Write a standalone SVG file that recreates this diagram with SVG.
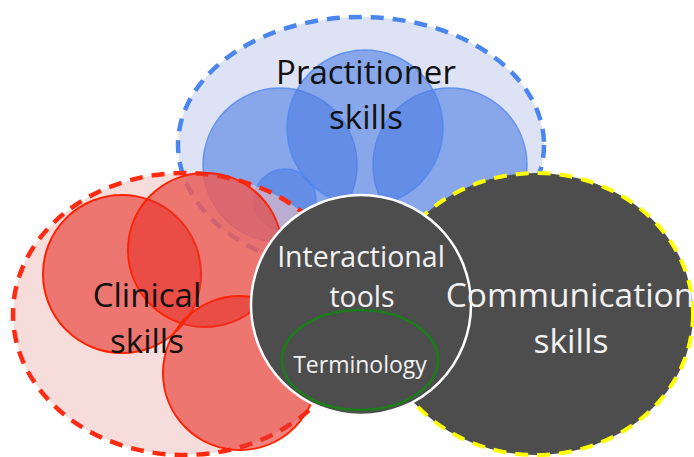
<svg xmlns="http://www.w3.org/2000/svg" width="694" height="457" viewBox="0 0 694 457">
<style>
.lbl{font-family:"Open Sans","Liberation Sans",sans-serif;text-anchor:middle}
.dark{fill:#111}
.light{fill:#f2f2f2}
.bc{fill:#4a7be3;fill-opacity:0.58;stroke:#4f86f0;stroke-opacity:0.8;stroke-width:1.5}
.rc{fill:#e8322a;fill-opacity:0.6;stroke:#ff2200;stroke-width:2}
</style>
<rect width="694" height="457" fill="#fff"/>
<g id="practitioner">
<ellipse cx="361" cy="145" rx="183" ry="128" fill="#dde3f4" stroke="#4a86ee" stroke-width="4.5" stroke-dasharray="13 9"/>
<circle class="bc" cx="280" cy="165" r="77"/>
<circle class="bc" cx="450" cy="165" r="77"/>
<circle class="bc" cx="365" cy="128" r="78"/>
<circle class="bc" cx="285" cy="200" r="31"/>
<text class="lbl dark" x="366" y="84" font-size="33">Practitioner</text>
<text class="lbl dark" x="366" y="129" font-size="33">skills</text>
</g>
<g id="clinical">
<ellipse cx="184" cy="314" rx="171" ry="141" fill="#f2c4c4" fill-opacity="0.6" stroke="#ff2a10" stroke-width="4.5" stroke-dasharray="13 9"/>
<circle class="rc" cx="122" cy="274" r="79"/>
<circle class="rc" cx="205" cy="250" r="77"/>
<circle class="rc" cx="240" cy="373" r="77"/>
<text class="lbl dark" x="147" y="307" font-size="33">Clinical</text>
<text class="lbl dark" x="147" y="353" font-size="33">skills</text>
</g>
<g id="communication">
<ellipse cx="536" cy="314" rx="157" ry="141" fill="#4d4d4d" stroke="#ffff00" stroke-width="4" stroke-dasharray="13 9"/>
</g>
<g id="interactional">
<circle cx="361" cy="305" r="110" fill="#4d4d4d" stroke="#ffffff" stroke-width="2.5"/>
<text class="lbl light" x="361" y="267" font-size="28.5">Interactional</text>
<text class="lbl light" x="362" y="307" font-size="28.5">tools</text>
</g>
<g id="terminology">
<ellipse cx="360" cy="360" rx="78" ry="50" fill="none" stroke="#1a7d1a" stroke-width="2.5"/>
<text class="lbl light" x="360" y="373" font-size="23">Terminology</text>
</g>
<g id="communication-label">
<text class="lbl light" x="570" y="307" font-size="33.5">Communication</text>
<text class="lbl light" x="571" y="353" font-size="33.5">skills</text>
</g>
<g id="connectors"></g>
</svg>
